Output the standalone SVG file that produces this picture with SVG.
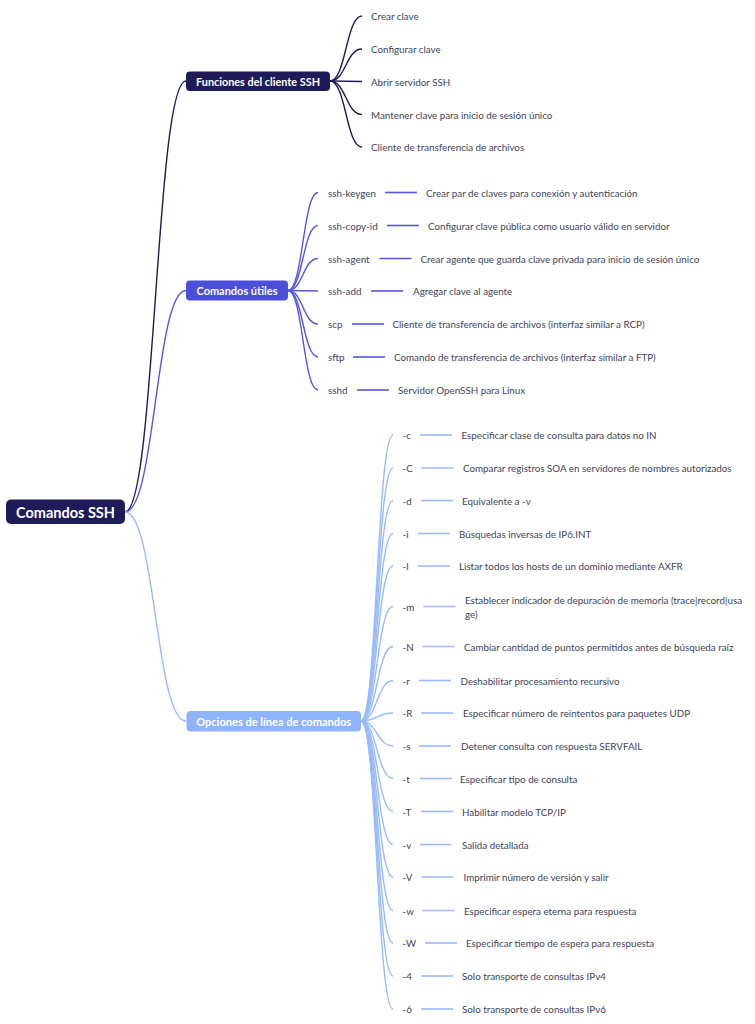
<svg xmlns="http://www.w3.org/2000/svg" width="755" height="1024" viewBox="0 0 755 1024">
<style>
.bg{fill:#ffffff}
.t{font-family:Lato,"Noto Sans","Liberation Sans",sans-serif;font-size:9.8px;fill:#41445a;dominant-baseline:central}
.nt{font-family:Lato,"Noto Sans","Liberation Sans",sans-serif;font-weight:bold;fill:#ffffff;dominant-baseline:central;text-anchor:middle}
.c1{fill:none;stroke:#1e1b58;stroke-width:1.4}
.c2{fill:none;stroke:#5357e0;stroke-width:1.4}
.c3{fill:none;stroke:#98baff;stroke-width:1.4}
.l2{stroke:#5357e0;stroke-width:1.6}
.l3{stroke:#98baff;stroke-width:1.6}
</style>
<rect class="bg" x="0" y="0" width="755" height="1024"/>
<g id="connectors">
<path class="c1" d="M125,512 C155.5,512 155.5,81 186,81"/>
<path class="c2" d="M125,512 C155.5,512 155.5,290.5 186,290.5"/>
<path class="c3" d="M125,512 C155.5,512 155.5,721 186,721"/>
<path class="c1" d="M330,81 C346,81 346,16 362,16"/>
<path class="c1" d="M330,81 C346,81 346,49 362,49"/>
<path class="c1" d="M330,81 L362,81.5"/>
<path class="c1" d="M330,81 C346,81 346,114.5 362,114.5"/>
<path class="c1" d="M330,81 C346,81 346,147 362,147"/>
<path class="c2" d="M288,290.5 C303,290.5 303,192.5 318,192.5"/>
<path class="c2" d="M288,290.5 C303,290.5 303,225.5 318,225.5"/>
<path class="c2" d="M288,290.5 C303,290.5 303,258.5 318,258.5"/>
<path class="c2" d="M288,290.5 L318,291"/>
<path class="c2" d="M288,290.5 C303,290.5 303,324 318,324"/>
<path class="c2" d="M288,290.5 C303,290.5 303,357 318,357"/>
<path class="c2" d="M288,290.5 C303,290.5 303,390 318,390"/>
<path class="c3" d="M361,721 C377,721 377,435 393,435"/>
<path class="c3" d="M361,721 C377,721 377,468 393,468"/>
<path class="c3" d="M361,721 C377,721 377,500.5 393,500.5"/>
<path class="c3" d="M361,721 C377,721 377,533.5 393,533.5"/>
<path class="c3" d="M361,721 C377,721 377,566 393,566"/>
<path class="c3" d="M361,721 C377,721 377,606.5 393,606.5"/>
<path class="c3" d="M361,721 C377,721 377,646.5 393,646.5"/>
<path class="c3" d="M361,721 C377,721 377,680.5 393,680.5"/>
<path class="c3" d="M361,721 C377,721 377,713 393,713"/>
<path class="c3" d="M361,721 C377,721 377,746 393,746"/>
<path class="c3" d="M361,721 C377,721 377,778.5 393,778.5"/>
<path class="c3" d="M361,721 C377,721 377,811.5 393,811.5"/>
<path class="c3" d="M361,721 C377,721 377,844.5 393,844.5"/>
<path class="c3" d="M361,721 C377,721 377,877 393,877"/>
<path class="c3" d="M361,721 C377,721 377,910.5 393,910.5"/>
<path class="c3" d="M361,721 C377,721 377,943 393,943"/>
<path class="c3" d="M361,721 C377,721 377,976 393,976"/>
<path class="c3" d="M361,721 C377,721 377,1009 393,1009"/>
<line class="l2" x1="385" y1="192.5" x2="417" y2="192.5"/>
<line class="l2" x1="387" y1="225.5" x2="419" y2="225.5"/>
<line class="l2" x1="379.5" y1="258.5" x2="411.5" y2="258.5"/>
<line class="l2" x1="371" y1="291" x2="403" y2="291"/>
<line class="l2" x1="352" y1="324" x2="384" y2="324"/>
<line class="l2" x1="353" y1="357" x2="385" y2="357"/>
<line class="l2" x1="357" y1="390" x2="389" y2="390"/>
<line class="l3" x1="420" y1="435" x2="452" y2="435"/>
<line class="l3" x1="421.5" y1="468" x2="453.5" y2="468"/>
<line class="l3" x1="421" y1="500.5" x2="453" y2="500.5"/>
<line class="l3" x1="418" y1="533.5" x2="450" y2="533.5"/>
<line class="l3" x1="418" y1="566" x2="450" y2="566"/>
<line class="l3" x1="423.5" y1="606.5" x2="455.5" y2="606.5"/>
<line class="l3" x1="422.5" y1="646.5" x2="454.5" y2="646.5"/>
<line class="l3" x1="419" y1="680.5" x2="451" y2="680.5"/>
<line class="l3" x1="421" y1="713" x2="453" y2="713"/>
<line class="l3" x1="419" y1="746" x2="451" y2="746"/>
<line class="l3" x1="420" y1="778.5" x2="452" y2="778.5"/>
<line class="l3" x1="421" y1="811.5" x2="453" y2="811.5"/>
<line class="l3" x1="419.5" y1="844.5" x2="451.5" y2="844.5"/>
<line class="l3" x1="421.5" y1="877" x2="453.5" y2="877"/>
<line class="l3" x1="422.5" y1="910.5" x2="454.5" y2="910.5"/>
<line class="l3" x1="425" y1="943" x2="457" y2="943"/>
<line class="l3" x1="421" y1="976" x2="453" y2="976"/>
<line class="l3" x1="421" y1="1009" x2="453" y2="1009"/>
</g>
<g id="root">
<rect x="6" y="499.5" width="119" height="24.5" rx="5" fill="#1e1b58"/>
<text class="nt" x="65.5" y="512" font-size="15" textLength="99" lengthAdjust="spacingAndGlyphs">Comandos SSH</text>
</g>
<g id="funciones">
<rect x="186" y="71.5" width="144" height="19.5" rx="4" fill="#1e1b58"/>
<text class="nt" x="258" y="81.5" font-size="11.3" textLength="124" lengthAdjust="spacingAndGlyphs">Funciones del cliente SSH</text>
</g>
<g id="comandos-utiles">
<rect x="186" y="280.5" width="102" height="20" rx="4" fill="#4b4fdb"/>
<text class="nt" x="237" y="290.7" font-size="11.3" textLength="81" lengthAdjust="spacingAndGlyphs">Comandos útiles</text>
</g>
<g id="opciones">
<rect x="186.5" y="711" width="174.5" height="20.5" rx="4" fill="#8fb3ff"/>
<text class="nt" x="273.7" y="721.3" font-size="11.3" textLength="155" lengthAdjust="spacingAndGlyphs">Opciones de línea de comandos</text>
</g>
<g id="funciones-hojas">
<text class="t" x="371" y="16">Crear clave</text>
<text class="t" x="371" y="49">Configurar clave</text>
<text class="t" x="371" y="81.5">Abrir servidor SSH</text>
<text class="t" x="371" y="114.5">Mantener clave para inicio de sesión único</text>
<text class="t" x="371" y="147">Cliente de transferencia de archivos</text>
</g>
<g id="comandos-hojas">
<text class="t" x="328" y="192.5">ssh-keygen</text>
<text class="t" x="426" y="192.5">Crear par de claves para conexión y autenticación</text>
<text class="t" x="328" y="225.5">ssh-copy-id</text>
<text class="t" x="428" y="225.5">Configurar clave pública como usuario válido en servidor</text>
<text class="t" x="328" y="258.5">ssh-agent</text>
<text class="t" x="420.5" y="258.5">Crear agente que guarda clave privada para inicio de sesión único</text>
<text class="t" x="328" y="291">ssh-add</text>
<text class="t" x="413" y="291">Agregar clave al agente</text>
<text class="t" x="328" y="324">scp</text>
<text class="t" x="392.5" y="324">Cliente de transferencia de archivos (interfaz similar a RCP)</text>
<text class="t" x="328" y="357">sftp</text>
<text class="t" x="394" y="357">Comando de transferencia de archivos (interfaz similar a FTP)</text>
<text class="t" x="328" y="390">sshd</text>
<text class="t" x="398" y="390">Servidor OpenSSH para Linux</text>
</g>
<g id="opciones-hojas">
<text class="t" x="402.5" y="435">-c</text>
<text class="t" x="461.5" y="435">Especificar clase de consulta para datos no IN</text>
<text class="t" x="402.5" y="468">-C</text>
<text class="t" x="463" y="468">Comparar registros SOA en servidores de nombres autorizados</text>
<text class="t" x="402.5" y="500.5">-d</text>
<text class="t" x="462" y="500.5">Equivalente a -v</text>
<text class="t" x="402.5" y="533.5">-i</text>
<text class="t" x="459" y="533.5">Búsquedas inversas de IP6.INT</text>
<text class="t" x="402.5" y="566">-l</text>
<text class="t" x="459" y="566">Listar todos los hosts de un dominio mediante AXFR</text>
<text class="t" x="402.5" y="606.5">-m</text>
<text class="t" x="465" y="600">Establecer indicador de depuración de memoria (trace|record|usa</text>
<text class="t" x="465" y="614">ge)</text>
<text class="t" x="402.5" y="646.5">-N</text>
<text class="t" x="464" y="646.5">Cambiar cantidad de puntos permitidos antes de búsqueda raíz</text>
<text class="t" x="402.5" y="680.5">-r</text>
<text class="t" x="460.5" y="680.5">Deshabilitar procesamiento recursivo</text>
<text class="t" x="402.5" y="713">-R</text>
<text class="t" x="463" y="713">Especificar número de reintentos para paquetes UDP</text>
<text class="t" x="402.5" y="746">-s</text>
<text class="t" x="461" y="746">Detener consulta con respuesta SERVFAIL</text>
<text class="t" x="402.5" y="778.5">-t</text>
<text class="t" x="460" y="778.5">Especificar tipo de consulta</text>
<text class="t" x="402.5" y="811.5">-T</text>
<text class="t" x="462" y="811.5">Habilitar modelo TCP/IP</text>
<text class="t" x="402.5" y="844.5">-v</text>
<text class="t" x="462" y="844.5">Salida detallada</text>
<text class="t" x="402.5" y="877">-V</text>
<text class="t" x="463.5" y="877">Imprimir número de versión y salir</text>
<text class="t" x="402.5" y="910.5">-w</text>
<text class="t" x="464" y="910.5">Especificar espera eterna para respuesta</text>
<text class="t" x="402.5" y="943">-W</text>
<text class="t" x="466" y="943">Especificar tiempo de espera para respuesta</text>
<text class="t" x="402.5" y="976">-4</text>
<text class="t" x="462" y="976">Solo transporte de consultas IPv4</text>
<text class="t" x="402.5" y="1009">-6</text>
<text class="t" x="462" y="1009">Solo transporte de consultas IPv6</text>
</g>
</svg>
